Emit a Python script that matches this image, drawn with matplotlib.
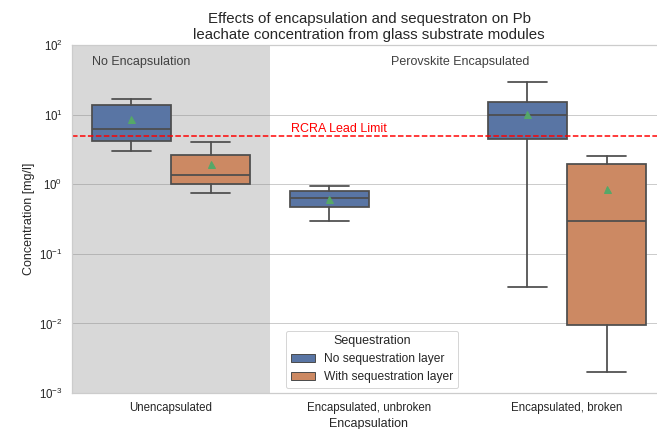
#box plot of Pb leachate concentration for the glass substrate modules

import numpy as np
import matplotlib
matplotlib.use("Agg")
import matplotlib.pyplot as plt
from matplotlib.patches import Patch
import seaborn as sns

sns.set_theme(style="whitegrid")
plt.rcParams['font.family'] = ['Liberation Sans', 'DejaVu Sans']

# groups on the x axis
groups = ['Unencapsulated', 'Encapsulated, unbroken', 'Encapsulated, broken']
hues = ['No sequestration layer', 'With sequestration layer']

# box statistics [mg/l], None = no data
whislo = [[2.97, 0.74], [0.296, None], [0.033, 0.002]]
q1 = [[4.2, 1.02], [0.47, None], [4.5, 0.0096]]
med = [[6.2, 1.37], [0.63, None], [10.0, 0.30]]
q3 = [[13.6, 2.63], [0.81, None], [15.2, 1.93]]
whishi = [[16.7, 4.03], [0.95, None], [29.4, 2.57]]
means = [[8.6, 1.97], [0.61, None], [10.3, 0.85]]

rcra_limit = 5.0

pal = [sns.desaturate(c, 0.75) for c in sns.color_palette("deep")[:2]]
edge = '0.3'

fig = plt.figure(figsize=(657 / 72, 429 / 72), dpi=72)
ax = fig.add_axes([72 / 657, 36 / 429, 594 / 657, 348 / 429])

for h in range(2):
    stats = []
    pos = []
    for g in range(3):
        if med[g][h] is None:
            continue
        stats.append(dict(whislo=whislo[g][h], q1=q1[g][h], med=med[g][h],
                          q3=q3[g][h], whishi=whishi[g][h], mean=means[g][h],
                          fliers=[]))
        pos.append(g - 0.2 + 0.4 * h)
    ax.bxp(stats, positions=pos, widths=0.4, patch_artist=True, showmeans=True,
           boxprops=dict(facecolor=pal[h], edgecolor=edge, linewidth=1.75),
           medianprops=dict(color=edge, linewidth=1.75),
           whiskerprops=dict(color=edge, linewidth=1.75),
           capprops=dict(color=edge, linewidth=1.75),
           meanprops=dict(marker='^', markerfacecolor='#55A868',
                          markeredgecolor='#55A868', markersize=7))

ax.set_yscale('log')
ax.set_ylim(1e-3, 1e2)
ax.set_xlim(-0.5, 2.5)
ax.set_xticks(range(3))
ax.set_xticklabels(groups)
ax.tick_params(labelsize=11.5)
ax.xaxis.grid(False)
ax.yaxis.grid(True, which='major')
ax.minorticks_off()

ax.axvspan(-0.5, 0.5, color='grey', alpha=0.3, lw=0)
ax.axhline(rcra_limit, color='red', linestyle='--', linewidth=1.5)
ax.text(0.605, 5.7, 'RCRA Lead Limit', color='red', fontsize=12.5)
ax.text(-0.4, 57, 'No Encapsulation', color='0.25', fontsize=12.5, va='center')
ax.text(1.46, 57, 'Perovskite Encapsulated', color='0.25', fontsize=12.5,
        va='center', ha='center')

ax.set_xlabel('Encapsulation', fontsize=12.5)
ax.set_ylabel('Concentration [mg/l]', fontsize=12.5)
ax.set_title('Effects of encapsulation and sequestraton on Pb\n'
             'leachate concentration from glass substrate modules', fontsize=15)

handles = [Patch(facecolor=pal[i], edgecolor=edge, label=hues[i]) for i in range(2)]
leg = ax.legend(handles=handles, title='Sequestration', loc='lower left',
                bbox_to_anchor=(0.36, 0.014), borderaxespad=0, fontsize=12,
                title_fontsize=12.5)

fig.savefig('out.png', dpi=72)
